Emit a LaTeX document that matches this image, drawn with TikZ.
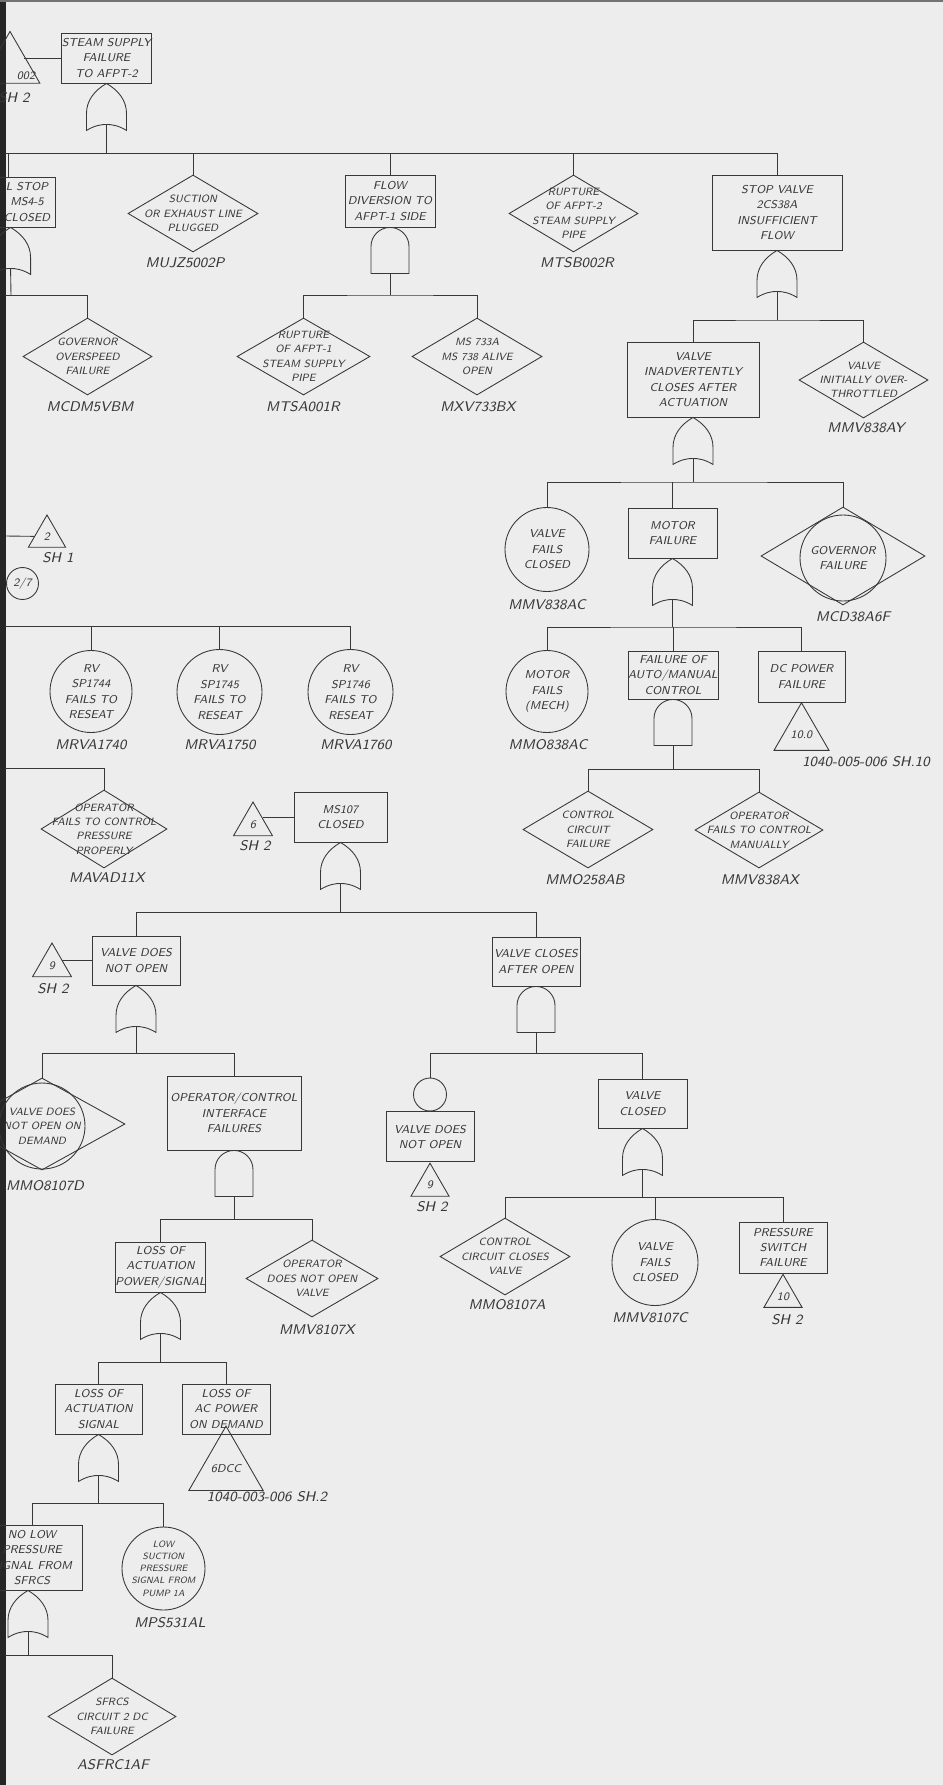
\documentclass[tikz,border=0pt]{standalone}
\usetikzlibrary{shapes.geometric,calc}
\newlength\px \setlength\px{0.02cm}
\newcommand\ftxt{\fontsize{6.5}{8.8}\selectfont\sffamily\slshape}
\newcommand\fdia{\fontsize{6}{8.2}\selectfont\sffamily\slshape}
\newcommand\fsml{\fontsize{5.2}{7}\selectfont\sffamily\slshape}
\newcommand\fcode{\fontsize{8}{9}\selectfont\sffamily\slshape}
\begin{document}
\begin{tikzpicture}[x=0.02cm,y=-0.02cm,line width=0.5pt,color=black!78,
 box/.style={draw,rectangle,inner sep=0pt,align=center,font=\ftxt},
 dia/.style={draw,diamond,inner sep=0pt},
 circ/.style={draw,circle,inner sep=0pt},
 txt/.style={align=center,font=\fdia,inner sep=0pt},
 code/.style={font=\fcode,inner sep=0pt},
 tri/.style={draw,regular polygon,regular polygon sides=3,inner sep=0pt,font=\ftxt},
 orgate/.pic={
  \draw (0,0) .. controls (12,7) and (20,17) .. (20,30) -- (20,47)
   .. controls (12,42) and (5,41) .. (0,41) .. controls (-5,41) and (-12,42) .. (-20,47)
   -- (-20,30) .. controls (-20,17) and (-12,7) .. (0,0) -- cycle;
  \coordinate (-in) at (0,0);
  \coordinate (-out) at (0,41);
 },
 andgate/.pic={
  \draw (-19,46) -- (-19,19) .. controls (-19,8.5) and (-10.5,0) .. (0,0)
   .. controls (10.5,0) and (19,8.5) .. (19,19) -- (19,46) -- cycle;
  \coordinate (-in) at (0,0);
  \coordinate (-out) at (0,46);
 }]
\useasboundingbox (0,0) rectangle (943,1785);
\clip (0,0) rectangle (943,1785);
\fill[black!7] (0,0) rectangle (943,1785);
\fill[black!85] (0,0) rectangle (6,1785);
\draw[black!55,line width=1pt] (0,1) -- (943,1);

% ---------- top ----------
\node[box,minimum width=87\px,minimum height=50\px] (ss) at (106.5,58) {STEAM SUPPLY\\FAILURE\\TO AFPT-2};
\node[tri,minimum size=69\px] (t002) at (10,66) {};
\node[code,font=\ftxt] (t002t) at (26,76) {002};
\node[code] (t002c) at (14,98) {SH 2};
\draw (ss.west) -- ++(-37,0);
\pic (g1) at (ss.south) {orgate};
\coordinate (b1) at (106.5,153);
\coordinate (b1l) at (5,153);
\draw (g1-out) -- (b1);

\node[box,minimum width=56\px,minimum height=50\px] (ls) at (27,202) {L STOP\\MS4-5\\CLOSED};
\node[dia,minimum width=130\px,minimum height=77\px] (sol) at (193,213.5) {};
\node[txt] (solt) at (sol) {SUCTION\\OR EXHAUST LINE\\PLUGGED};
\node[code] (solc) at (185,263) {MUJZ5002P};
\node[box,minimum width=90\px,minimum height=52\px] (flow) at (390,201) {FLOW\\DIVERSION TO\\AFPT-1 SIDE};
\node[dia,minimum width=129\px,minimum height=77\px] (rup2) at (573.5,213.5) {};
\node[txt] (rup2t) at (rup2) {RUPTURE\\OF AFPT-2\\STEAM SUPPLY\\PIPE};
\node[code] (rup2c) at (577,263) {MTSB002R};
\node[box,minimum width=130\px,minimum height=75\px] (sv) at (777,212.5) {STOP VALVE\\2CS38A\\INSUFFICIENT\\FLOW};

\draw (b1l) -| (sv.north);
\draw ($(ls.north west)+(10,0)$) -- ++(0,-24);
\draw (sol.north) -- (sol.north |- b1);
\draw (flow.north) -- (flow.north |- b1);
\draw (rup2.north) -- (rup2.north |- b1);

% ---------- left branch of top ----------
\pic (g2) at ($(ls.south west)+(12,0)$) {orgate};
\coordinate (b2) at (11,295);
\coordinate (b2l) at (5,295);
\draw (g2-out) -- (b2);
\node[dia,minimum width=129\px,minimum height=77\px] (gov) at (87.5,356.5) {};
\node[txt] (govt) at (gov) {GOVERNOR\\OVERSPEED\\FAILURE};
\node[code] (govc) at (90,407) {MCDM5VBM};
\draw (b2l) -| (gov.north);

% ---------- flow diversion ----------
\pic (g3) at (flow.south) {andgate};
\coordinate (b3) at (390,295);
\draw (g3-out) -- (b3);
\node[dia,minimum width=133\px,minimum height=77\px] (rup1) at (303.5,356.5) {};
\node[txt] (rup1t) at (rup1) {RUPTURE\\OF AFPT-1\\STEAM SUPPLY\\PIPE};
\node[code] (rup1c) at (303,407) {MTSA001R};
\node[dia,minimum width=130\px,minimum height=77\px] (ms733) at (477,356.5) {};
\node[txt] (ms733t) at (ms733) {MS 733A\\MS 738 ALIVE\\OPEN};
\node[code] (ms733c) at (478,407) {MXV733BX};
\draw (rup1.north) |- (b3) -| (ms733.north);

% ---------- stop valve ----------
\pic (g4) at (sv.south) {orgate};
\coordinate (b4) at (777,320);
\draw (g4-out) -- (b4);
\node[box,minimum width=132\px,minimum height=75\px] (via) at (693,379.5) {VALVE\\INADVERTENTLY\\CLOSES AFTER\\ACTUATION};
\node[dia,minimum width=129\px,minimum height=76\px] (vio) at (863.5,380) {};
\node[txt] (viot) at (vio) {VALVE\\INITIALLY OVER-\\THROTTLED};
\node[code] (vioc) at (866,428) {MMV838AY};
\draw (via.north) |- (b4) -| (vio.north);

\pic (g5) at (via.south) {orgate};
\coordinate (b5) at (693,482);
\draw (g5-out) -- (b5);
\node[circ,minimum size=84\px] (vfc) at (547,549.5) {};
\node[txt,font=\ftxt] (vfct) at (vfc) {VALVE\\FAILS\\CLOSED};
\node[code] (vfcc) at (547,605) {MMV838AC};
\node[box,minimum width=89\px,minimum height=50\px] (mf) at (672.5,533) {MOTOR\\FAILURE};
\node[dia,minimum width=164\px,minimum height=98\px] (govf) at (843,556) {};
\node[circ,minimum size=86\px] (govfc) at (843,558) {};
\node[txt,font=\ftxt] (govft) at (843,558) {GOVERNOR\\FAILURE};
\node[code] (govfcc) at (853,617) {MCD38A6F};
\draw (vfc.north) |- (b5) -| (govf.north);
\draw (mf.north) -- (mf.north |- b5);

\pic (g6) at (mf.south) {orgate};
\coordinate (b6) at (672.5,627);
\draw (g6-out) -- (b6);
\node[circ,minimum size=82\px] (mfm) at (547,691.5) {};
\node[txt,font=\ftxt] (mfmt) at (mfm) {MOTOR\\FAILS\\(MECH)};
\node[code] (mfmc) at (548,745) {MMO838AC};
\node[box,minimum width=90\px,minimum height=48\px] (fam) at (673,675) {FAILURE OF\\AUTO/MANUAL\\CONTROL};
\node[box,minimum width=87\px,minimum height=51\px] (dc) at (801.5,676.5) {DC POWER\\FAILURE};
\draw (mfm.north) |- (b6) -| (dc.north);
\draw (fam.north) -- (fam.north |- b6);
\node[tri,minimum size=63.5\px] (t100) at (801.5,734.5) {10.0};
\node[code] (t100c) at (866,762) {1040-005-006 SH.10};

\pic (g7) at (fam.south) {andgate};
\coordinate (b7) at (673,769);
\draw (g7-out) -- (b7);
\node[dia,minimum width=130\px,minimum height=77\px] (ccf) at (588,829.5) {};
\node[txt] (ccft) at (ccf) {CONTROL\\CIRCUIT\\FAILURE};
\node[code] (ccfc) at (585,880) {MMO258AB};
\node[dia,minimum width=128\px,minimum height=76\px] (ofm) at (759,830) {};
\node[txt] (ofmt) at (ofm) {OPERATOR\\FAILS TO CONTROL\\MANUALLY};
\node[code] (ofmc) at (760,880) {MMV838AX};
\draw (ccf.north) |- (b7) -| (ofm.north);

% ---------- left middle ----------
\coordinate (e1) at (5,536);
\node[tri,minimum size=43\px] (t2) at (47,536.5) {2};
\node[code] (t2c) at (58,558) {SH 1};
\draw (e1) -- (t2);
\node[circ,minimum size=32\px,font=\ftxt] (c27) at (22.5,583.5) {2/7};

\coordinate (e2) at (5,626);
\node[circ,minimum size=82\px] (rv1) at (91,691.5) {};
\node[txt,font=\ftxt] (rv1t) at (rv1) {RV\\SP1744\\FAILS TO\\RESEAT};
\node[code] (rv1c) at (91,745) {MRVA1740};
\node[circ,minimum size=85\px] (rv2) at (219.5,692) {};
\node[txt,font=\ftxt] (rv2t) at (rv2) {RV\\SP1745\\FAILS TO\\RESEAT};
\node[code] (rv2c) at (220,745) {MRVA1750};
\node[circ,minimum size=85\px] (rv3) at (350.5,692) {};
\node[txt,font=\ftxt] (rv3t) at (rv3) {RV\\SP1746\\FAILS TO\\RESEAT};
\node[code] (rv3c) at (356,745) {MRVA1760};
\draw (e2) -| (rv3.north);
\draw (rv1.north) -- (rv1.north |- e2);
\draw (rv2.north) -- (rv2.north |- e2);

\coordinate (e3) at (5,768);
\node[dia,minimum width=126\px,minimum height=78\px] (opp) at (104,829) {};
\node[txt] (oppt) at (opp) {OPERATOR\\FAILS TO CONTROL\\PRESSURE\\PROPERLY};
\node[code] (oppc) at (107,878) {MAVAD11X};
\draw (e3) -| (opp.north);

% ---------- MS107 ----------
\node[box,minimum width=93\px,minimum height=50\px] (ms107) at (340.5,817) {MS107\\CLOSED};
\node[tri,minimum size=45\px] (t6) at (253,824.5) {6};
\node[code] (t6c) at (255,846) {SH 2};
\draw (ms107.west) -- ++(-31,0);
\pic (g8) at (ms107.south) {orgate};
\coordinate (b8) at (340.5,912);
\draw (g8-out) -- (b8);
\node[box,minimum width=88\px,minimum height=49\px] (vdno) at (136,960.5) {VALVE DOES\\NOT OPEN};
\node[box,minimum width=88\px,minimum height=49\px] (vcao) at (536,961.5) {VALVE CLOSES\\AFTER OPEN};
\draw (vdno.north) |- (b8) -| (vcao.north);
\node[tri,minimum size=45\px] (t9) at (52,965.5) {9};
\node[code] (t9c) at (53,989) {SH 2};
\draw (vdno.west) -- ++(-30,0);

\pic (g9) at (vdno.south) {orgate};
\coordinate (b9) at (136,1053);
\draw (g9-out) -- (b9);
\node[dia,minimum width=166\px,minimum height=92\px] (vdd) at (42,1124) {};
\node[circ,minimum size=86\px] (vddc) at (42,1126) {};
\node[txt] (vddt) at (42,1126) {VALVE DOES\\NOT OPEN ON\\DEMAND};
\node[code] (vddcc) at (45,1186) {MMO8107D};
\node[box,minimum width=134\px,minimum height=74\px] (oci) at (234,1113) {OPERATOR/CONTROL\\INTERFACE\\FAILURES};
\draw (vdd.north) |- (b9) -| (oci.north);

\pic (g10) at (oci.south) {andgate};
\coordinate (b10) at (234,1219);
\draw (g10-out) -- (b10);
\node[box,minimum width=87\px,minimum height=50\px] (lap) at (160.5,1267) {LOSS OF\\ACTUATION\\POWER/SIGNAL};
\node[dia,minimum width=132\px,minimum height=77\px] (odn) at (312,1278.5) {};
\node[txt] (odnt) at (odn) {OPERATOR\\DOES NOT OPEN\\VALVE};
\node[code] (odnc) at (317,1330) {MMV8107X};
\draw (lap.north) |- (b10) -| (odn.north);

\pic (g11) at (lap.south) {orgate};
\coordinate (b11) at (160.5,1362);
\draw (g11-out) -- (b11);
\node[box,minimum width=87\px,minimum height=50\px] (las) at (98.5,1409) {LOSS OF\\ACTUATION\\SIGNAL};
\node[box,minimum width=88\px,minimum height=50\px] (lac) at (226,1409) {LOSS OF\\AC POWER\\ON DEMAND};
\draw (las.north) |- (b11) -| (lac.north);
\node[tri,minimum size=66\px] (t6dcc) at (226,1469) {6DCC};
\node[code] (t6dccc) at (267,1497) {1040-003-006 SH.2};

\pic (g12) at (las.south) {orgate};
\coordinate (b12) at (98.5,1503);
\draw (g12-out) -- (b12);
\node[box,minimum width=100\px,minimum height=65\px] (nlp) at (32,1557.5) {NO LOW\\PRESSURE\\SIGNAL FROM\\SFRCS};
\node[circ,minimum size=83\px] (lsp) at (163.5,1568.5) {};
\node[txt,font=\fsml] (lspt) at (lsp) {LOW\\SUCTION\\PRESSURE\\SIGNAL FROM\\PUMP 1A};
\node[code] (lspc) at (170,1623) {MPS531AL};
\draw (nlp.north) |- (b12) -| (lsp.north);

\pic (g13) at ($(nlp.south)+(-4,0)$) {orgate};
\coordinate (b13) at (28,1655);
\coordinate (e4) at (5,1655);
\draw (g13-out) -- (b13);
\node[dia,minimum width=128\px,minimum height=77\px] (sfr) at (112,1716.5) {};
\node[txt] (sfrt) at (sfr) {SFRCS\\CIRCUIT 2 DC\\FAILURE};
\node[code] (sfrc) at (113,1765) {ASFRC1AF};
\draw (e4) -| (sfr.north);

% ---------- valve closes after open ----------
\pic (g14) at (vcao.south) {andgate};
\coordinate (b14) at (536,1053);
\draw (g14-out) -- (b14);
\node[circ,minimum size=33\px] (sm) at (430,1094.5) {};
\node[box,minimum width=88\px,minimum height=50\px,anchor=north] (vdno2) at (sm.south) {VALVE DOES\\NOT OPEN};
\node[tri,minimum size=44\px,anchor=north] (t9b) at (vdno2.south) {9};
\node[code] (t9bc) at (432,1207) {SH 2};
\node[box,minimum width=89\px,minimum height=49\px] (vc) at (642.5,1103.5) {VALVE\\CLOSED};
\draw (sm.north) |- (b14) -| (vc.north);

\pic (g15) at (vc.south) {orgate};
\coordinate (b15) at (642.5,1197);
\draw (g15-out) -- (b15);
\node[dia,minimum width=130\px,minimum height=77\px] (cccv) at (505,1256.5) {};
\node[txt] (cccvt) at (cccv) {CONTROL\\CIRCUIT CLOSES\\VALVE};
\node[code] (cccvc) at (507,1305) {MMO8107A};
\node[circ,minimum size=86\px] (vfc2) at (655,1262.5) {};
\node[txt,font=\ftxt] (vfc2t) at (vfc2) {VALVE\\FAILS\\CLOSED};
\node[code] (vfc2c) at (650,1318) {MMV8107C};
\node[box,minimum width=88\px,minimum height=51\px] (psf) at (783,1247.5) {PRESSURE\\SWITCH\\FAILURE};
\draw (cccv.north) |- (b15) -| (psf.north);
\draw (vfc2.north) -- (vfc2.north |- b15);
\node[tri,minimum size=44\px,anchor=north] (t10) at (psf.south) {10};
\node[code] (t10c) at (787,1320) {SH 2};
\end{tikzpicture}
\end{document}
